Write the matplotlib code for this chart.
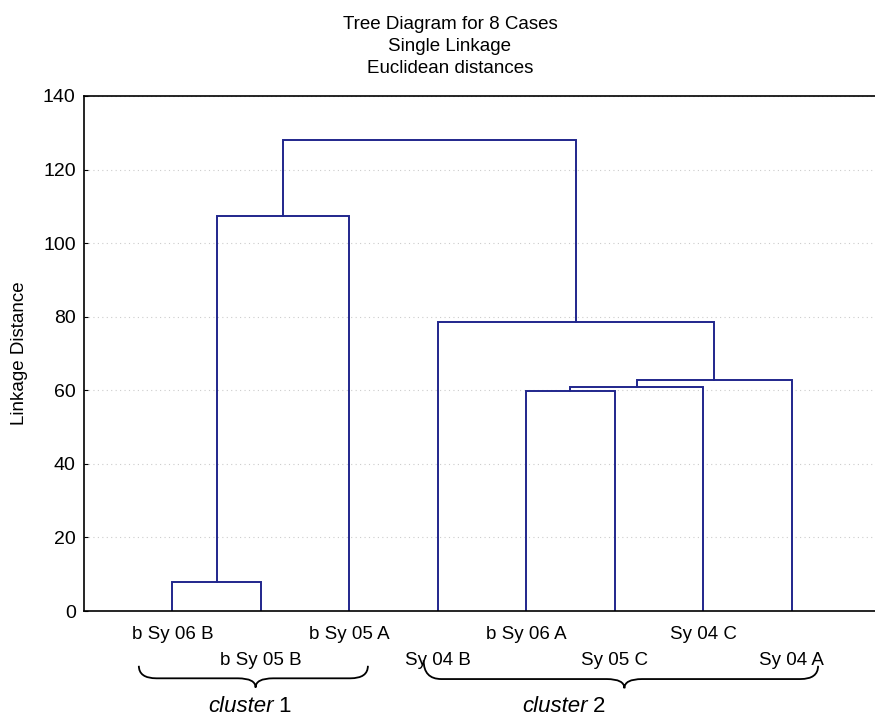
import numpy as np
import matplotlib
matplotlib.use("Agg")
import matplotlib.pyplot as plt
from matplotlib.path import Path
from matplotlib.patches import PathPatch

plt.rcParams['font.family'] = ['Liberation Sans', 'DejaVu Sans']

# leaf labels in dendrogram order
leaf_labels = ["b Sy 06 B", "b Sy 05 B", "b Sy 05 A", "Sy 04 B",
               "b Sy 06 A", "Sy 05 C", "Sy 04 C", "Sy 04 A"]
# merges: (left node, right node, linkage distance); new nodes numbered from 8
merge_left = [0, 4, 9, 10, 3, 8, 13]
merge_right = [1, 5, 6, 7, 11, 2, 12]
merge_height = [8.0, 59.8, 60.9, 62.8, 78.5, 107.3, 128.0]

cluster_names = ["1", "2"]

line_col = '#20268c'


def brace(ax, x0, x1, xt, ytop0, ytop1, ymid, ytip, dx=0.2):
    verts = [(x0, ytop0), (x0, ymid), (x0 + dx, ymid),
             (xt - dx, ymid), (xt, ymid), (xt, ytip),
             (xt, ymid), (xt + dx, ymid),
             (x1 - dx, ymid), (x1, ymid), (x1, ytop1)]
    codes = [Path.MOVETO, Path.CURVE3, Path.CURVE3,
             Path.LINETO, Path.CURVE3, Path.CURVE3,
             Path.CURVE3, Path.CURVE3,
             Path.LINETO, Path.CURVE3, Path.CURVE3]
    ax.add_patch(PathPatch(Path(verts, codes), fill=False, lw=1.3,
                           color='black', clip_on=False))


fig = plt.figure(figsize=(8.75, 7.19), dpi=100)
ax = fig.add_axes([84 / 875, 108 / 719, 796 / 875, 515 / 719])

n = len(leaf_labels)
xpos = {i: i + 1.0 for i in range(n)}
hgt = {i: 0.0 for i in range(n)}
for k, (a, b, h) in enumerate(zip(merge_left, merge_right, merge_height)):
    ax.plot([xpos[a], xpos[a], xpos[b], xpos[b]], [hgt[a], h, h, hgt[b]],
            color=line_col, lw=1.4, solid_joinstyle='miter')
    node = n + k
    xpos[node] = (xpos[a] + xpos[b]) / 2
    hgt[node] = h

ax.set_xlim(0, n + 1)
ax.set_ylim(0, 140)
ax.set_yticks(np.arange(0, 141, 20))
ax.set_xticks([])
ax.tick_params(axis='y', direction='in', length=3, labelsize=14, pad=6)
ax.yaxis.grid(True, ls=(0, (1, 3)), color='#cccccc', lw=0.8)
ax.set_axisbelow(True)
for s in ax.spines.values():
    s.set_linewidth(1.2)
ax.set_ylabel("Linkage Distance", fontsize=13.5)
ax.yaxis.set_label_coords(-0.07, 0.5)

# staggered leaf labels
for i, lab in enumerate(leaf_labels):
    y = -6.5 if i % 2 == 0 else -13.4
    ax.text(xpos[i], y, lab, ha='center', va='center', fontsize=13.5,
            clip_on=False)

# braces and cluster names
brace(ax, 0.62, 3.21, 1.94, -14.9, -14.9, -18.3, -20.8)
brace(ax, 3.84, 8.30, 6.11, -13.4, -14.9, -18.5, -21.0)
for xc, name in zip([2.2, 5.75], cluster_names):
    ax.text(xc - 0.05, -26.0, "cluster", ha='right', va='center',
            fontsize=16, style='italic', clip_on=False)
    ax.text(xc, -26.0, name, ha='left', va='center', fontsize=16,
            clip_on=False)

fig.text(450 / 875, 1 - 16 / 719,
         "Tree Diagram for 8 Cases\nSingle Linkage\nEuclidean distances",
         ha='center', va='top', fontsize=13.5, linespacing=1.4)

fig.savefig("out.png", dpi=100)
